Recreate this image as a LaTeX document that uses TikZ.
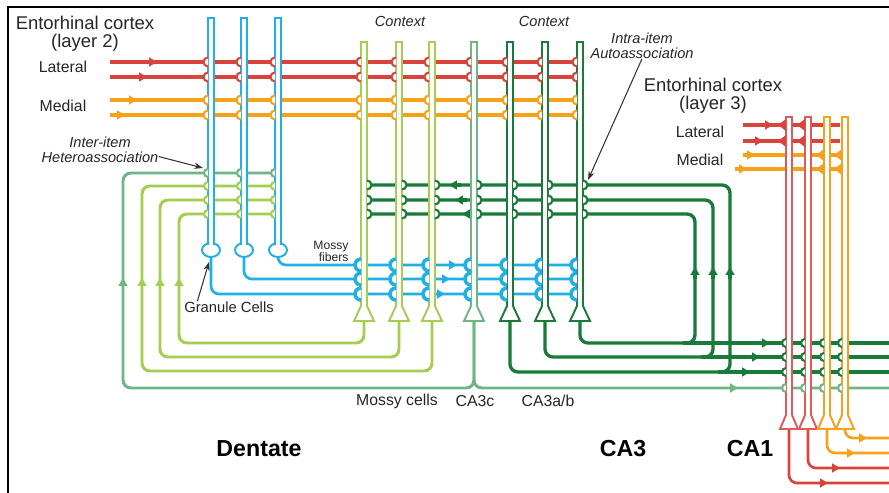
\documentclass[tikz,border=0pt]{standalone}
\usepackage{fontspec}
\setmainfont{Liberation Sans}
\usetikzlibrary{arrows.meta,calc}

\definecolor{ppred}{RGB}{216,68,60}
\definecolor{pporange}{RGB}{247,161,27}
\definecolor{gcblue}{RGB}{32,176,230}
\definecolor{mcgreen}{RGB}{163,206,80}
\definecolor{cthree}{RGB}{112,182,132}
\definecolor{cab}{RGB}{26,122,58}
\definecolor{caonered}{RGB}{226,90,88}

\tikzset{
  fib/.style={draw=#1, line width=1.9pt, rounded corners=4.5pt},
  dend/.style={draw=#1, line width=1.1pt, fill=white},
  syn/.style={draw=#1, line width=1.2pt, fill=white},
  arrowmark/.style={-{Triangle[length=4.5pt,width=5pt]}},
  callout/.style={draw=black!80, line width=0.6pt, -{Stealth[length=5pt,width=3.5pt]}},
  lbl/.style={inner sep=0pt, text=black!85, font=\fontsize{9}{10.8}\selectfont},
  ectitle/.style={lbl, align=center, font=\fontsize{10.5}{10.3}\selectfont},
  itl/.style={lbl, align=center, font=\fontsize{8.3}{8.6}\selectfont\itshape},
  smalllbl/.style={lbl, align=right, font=\fontsize{6.9}{6.8}\selectfont},
  region/.style={inner sep=0pt, font=\fontsize{13.2}{15}\selectfont\bfseries},
}

\begin{document}
\begin{tikzpicture}[x=0.02cm, y=-0.02cm]
  \useasboundingbox (0,0) rectangle (889,493);
  \fill[white] (0,0) rectangle (889,493);
  \draw[line width=1.3pt] (8,493) -- (8,7) -- (889,7);

  % perforant path from layer 2
  \foreach \y/\col/\a in {62/ppred/157, 77/ppred/147, 100/pporange/137, 115/pporange/125} {
    \draw[fib=\col] (110,\y) -- (577,\y);
    \draw[\col, line width=1.9pt, arrowmark] (\a-12,\y) -- (\a,\y);
  }
  % layer 3 input to CA1
  \foreach \y/\col/\a/\e in {125/ppred/773/840, 141/ppred/763/840, 155/pporange/755/842, 169/pporange/747/842} {
    \draw[fib=\col] (743,\y) -- (\e,\y);
    \draw[\col, line width=1.9pt, arrowmark] (\a-12,\y) -- (\a,\y);
  }

  % mossy fibers
  \foreach \x/\y/\a in {211/294/445, 244/279/450, 278/265/457} {
    \draw[fib=gcblue, line width=1.5pt] (\x,255) -- (\x,\y) -- (577,\y);
    \draw[gcblue, line width=1.5pt, arrowmark] (\a-12,\y) -- (\a,\y);
  }

  % mossy cell and CA3c loops back to the granule cells
  \foreach \s/\v/\yt/\yb/\col in {364/179/214/343/mcgreen, 399/160/200/357/mcgreen, 432/142/186/371/mcgreen, 474/123/173/388/cthree} {
    \draw[fib=\col, line width=1.7pt] (\s,320) -- (\s,\yb) -- (\v,\yb) -- (\v,\yt) -- (275,\yt);
    \draw[\col, line width=1.7pt, arrowmark] (\v,290) -- (\v,278);
  }
  \draw[fib=cthree, line width=1.7pt] (474,320) -- (474,388) -- (889,388);
  \draw[cthree, line width=1.7pt, arrowmark] (726,388) -- (738,388);

  % CA3 recurrent collaterals and Schaffer collaterals
  \foreach \s/\v/\yt/\yb/\a/\b in {510/730/185/372/449/750, 545/713/200/357/455/760, 580/695/214/343/462/770} {
    \draw[fib=cab] (\s,320) -- (\s,\yb) -- (\v,\yb) -- (\v,\yt) -- (368,\yt);
    \draw[fib=cab] (\v-12,\yb) -- (889,\yb);
    \draw[cab, line width=1.9pt, arrowmark] (\a+12,\yt) -- (\a,\yt);
    \draw[cab, line width=1.9pt, arrowmark] (\v,279) -- (\v,267);
    \draw[cab, line width=1.9pt, arrowmark] (\b-12,\yb) -- (\b,\yb);
  }

  % CA1 output
  \foreach \x/\y/\a/\col in {789/483/828/ppred, 808/468/840/ppred, 827/453/855/pporange, 845/438/867/pporange} {
    \draw[fib=\col, line width=1.5pt] (\x,428) -- (\x,\y) -- (889,\y);
    \draw[\col, line width=1.5pt, arrowmark] (\a-12,\y) -- (\a,\y);
  }

  % cells
  \foreach \x in {211,244,278} {
    \draw[dend=gcblue] (\x,250) ellipse (9 and 7);
    \draw[dend=gcblue] (\x-3,245) -- (\x-3,18) -- (\x+3,18) -- (\x+3,245);
  }
  \foreach \x/\col in {364/mcgreen, 399/mcgreen, 432/mcgreen, 474/cthree, 510/cab, 545/cab, 580/cab}
    \draw[dend=\col] (\x-3,42) -- (\x+3,42) -- (\x+3,306) -- (\x+10,321) -- (\x-10,321) -- (\x-3,306) -- cycle;
  \foreach \x/\col in {789/caonered, 808/caonered, 827/pporange, 845/pporange}
    \draw[dend=\col] (\x-3,117) -- (\x+3,117) -- (\x+3,415) -- (\x+9,429) -- (\x-9,429) -- (\x-3,415) -- cycle;

  % synapses
  \foreach \y/\col in {62/ppred, 77/ppred, 100/pporange, 115/pporange}
    \foreach \e in {208,241,275,361,396,429,471,507,542,577}
      \draw[syn=\col] (\e,\y-4.5) arc (270:90:4.5);
  \foreach \y/\col in {173/cthree, 186/mcgreen, 200/mcgreen, 214/mcgreen}
    \foreach \e in {208,241,275}
      \draw[syn=\col] (\e,\y-4) arc (270:90:4);
  \foreach \y in {185,200,214}
    \foreach \e in {367,402,435,477,513,548,583}
      \draw[syn=cab] (\e,\y-4.5) arc (270:450:4.5);
  \foreach \y in {265,279,294}
    \foreach \e in {361,396,429,471,507,542,577}
      \draw[syn=gcblue, line width=2pt] (\e,\y-6) arc (270:90:6);
  \foreach \y/\col in {343/cab, 357/cab, 372/cab, 388/cthree}
    \foreach \e in {786,805,824,842}
      \draw[syn=\col] (\e,\y-4) arc (270:90:4);
  \foreach \y/\col/\ea/\eb in {125/ppred/786/805, 141/ppred/786/805, 155/pporange/824/842, 169/pporange/824/842}
    \foreach \e in {\ea,\eb}
      \fill[\col] (\e,\y-6) -- (\e,\y+6) -- (\e-8,\y) -- cycle;

  % labels
  \node[ectitle] (ecii) at (85,34) {Entorhinal cortex\\(layer 2)};
  \node[lbl] (latii) at (63,67) {Lateral};
  \node[lbl] (medii) at (63,106) {Medial};
  \node[itl] (hetero) at (100,149.5) {Inter-item\\Heteroassociation};
  \node[itl] (ctxa) at (400,21) {Context};
  \node[itl] (ctxb) at (544,21) {Context};
  \node[itl] (auto) at (642,45.5) {Intra-item\\Autoassociation};
  \node[ectitle] (eciii) at (713,96) {Entorhinal cortex\\(layer 3)};
  \node[lbl] (latiii) at (700,132) {Lateral};
  \node[lbl] (mediii) at (700,160) {Medial};
  \node[smalllbl] (mf) at (331,251) {Mossy\\fibers};
  \node[lbl, font=\fontsize{8.4}{10}\selectfont] (gran) at (229,307) {Granule Cells};
  \node[lbl] (mossy) at (397,401) {Mossy cells};
  \node[lbl] (cac) at (475,401) {CA3c};
  \node[lbl] (caab) at (548,401) {CA3a/b};
  \node[region] (dent) at (259,449) {Dentate};
  \node[region] (cathree) at (623,449) {CA3};
  \node[region] (caone) at (750,449) {CA1};

  \coordinate (hh) at (203,168);
  \coordinate (aa) at (588,180);
  \coordinate (gg) at (209,262);
  \draw[callout] ([yshift=-4pt]hetero.east) -- (hh);
  \draw[callout] (auto.south) -- (aa);
  \draw[callout] ([xshift=-18pt]gran.north) -- (gg);
\end{tikzpicture}
\end{document}
